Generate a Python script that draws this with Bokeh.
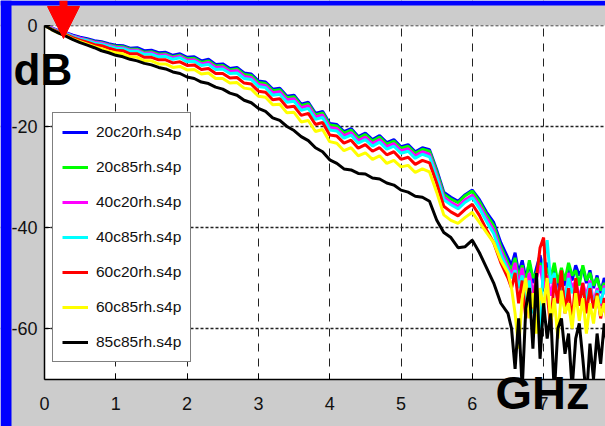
import numpy as np
from bokeh.plotting import figure
from bokeh.models import (Range1d, FixedTicker, Legend, LegendItem, Label,
                          Arrow, NormalHead, BoxAnnotation)
from bokeh.embed import file_html
from bokeh.resources import INLINE

# ---------------- data ----------------
freq_smooth = np.round(np.arange(0.0, 6.51, 0.1), 2)      # GHz, 0.0 .. 6.5
freq_noisy = np.round(np.arange(6.55, 7.91, 0.05), 2)     # GHz, 6.55 .. 7.9
freq = np.concatenate([freq_smooth, freq_noisy])

s20c20 = [0, -0.5, -1.0, -1.4, -1.9, -2.3, -2.6, -3.0, -3.2, -3.6,
          -3.9, -4.0, -4.5, -4.4, -5.0, -4.9, -5.4, -5.3, -5.9, -5.6,
          -6.3, -6.2, -7.0, -6.7, -7.7, -7.6, -8.5, -8.3, -9.4, -9.6,
          -11.0, -11.2, -12.6, -12.4, -14.0, -13.8, -15.6, -15.2, -17.4, -17.0,
          -19.4, -19.6, -21.0, -20.4, -22.0, -21.3, -22.6, -21.8, -23.2, -22.6,
          -24.0, -23.6, -25.0, -24.2, -24.6, -28.5, -33.0, -34.0, -34.8, -33.5,
          -32.6, -34.5, -37.0, -39.0, -43.0, -46.0,
          -47.5, -45.0, -49.0, -46.5, -50.0, -47.0, -51.0, -48.0, -45.5, -49.0,
          -47.0, -51.0, -48.5, -52.0, -49.0, -51.5, -48.0, -50.5, -47.5, -49.5,
          -48.0, -51.0, -48.5, -52.0, -49.5, -53.0, -50.0, -52.0]

s20c85 = [0, -0.6, -1.1, -1.6, -2.1, -2.5, -2.8, -3.2, -3.4, -3.8,
          -4.1, -4.2, -4.7, -4.7, -5.3, -5.2, -5.7, -5.6, -6.2, -5.9,
          -6.6, -6.5, -7.3, -7.0, -8.0, -7.9, -8.8, -8.6, -9.7, -9.9,
          -11.3, -11.5, -12.9, -12.7, -14.3, -14.1, -15.9, -15.5, -17.7, -17.3,
          -19.7, -19.9, -21.3, -20.7, -22.3, -21.6, -22.9, -22.1, -23.5, -22.9,
          -24.3, -23.9, -25.3, -24.5, -24.9, -28.9, -33.4, -34.4, -35.1, -33.7,
          -32.8, -34.9, -37.5, -39.6, -43.8, -47.0,
          -48.5, -46.0, -50.0, -47.5, -51.0, -46.5, -50.0, -49.0, -47.0, -50.5,
          -48.0, -50.0, -47.0, -51.0, -48.0, -50.5, -47.0, -49.5, -48.5, -51.5,
          -47.5, -50.5, -49.0, -51.5, -50.0, -52.5, -51.0, -53.0]

s40c20 = [0, -0.5, -1.1, -1.5, -2.1, -2.5, -2.9, -3.3, -3.5, -3.9,
          -4.3, -4.4, -4.9, -4.9, -5.5, -5.4, -5.9, -5.8, -6.4, -6.1,
          -6.9, -6.8, -7.6, -7.3, -8.3, -8.2, -9.1, -8.9, -10.1, -10.3,
          -11.7, -11.9, -13.3, -13.1, -14.7, -14.5, -16.3, -15.9, -18.1, -17.7,
          -20.2, -20.4, -21.8, -21.2, -22.8, -22.1, -23.4, -22.6, -24.0, -23.4,
          -24.8, -24.4, -25.8, -25.0, -25.5, -29.5, -34.0, -35.0, -35.8, -34.5,
          -33.6, -35.6, -38.2, -40.5, -44.5, -47.8,
          -49.5, -47.0, -51.5, -48.0, -52.5, -49.0, -53.0, -50.0, -47.5, -52.0,
          -49.5, -53.5, -50.0, -54.0, -51.0, -55.0, -49.0, -52.0, -50.5, -54.0,
          -51.0, -53.5, -50.5, -55.0, -52.0, -55.5, -51.5, -54.5]

s40c85 = [0, -0.6, -1.2, -1.6, -2.2, -2.7, -3.0, -3.5, -3.7, -4.1,
          -4.5, -4.6, -5.1, -5.1, -5.7, -5.7, -6.2, -6.1, -6.7, -6.4,
          -7.2, -7.1, -7.9, -7.7, -8.7, -8.6, -9.5, -9.4, -10.5, -10.7,
          -12.1, -12.3, -13.8, -13.6, -15.2, -15.0, -16.8, -16.4, -18.6, -18.2,
          -20.7, -20.9, -22.3, -21.7, -23.3, -22.6, -23.9, -23.1, -24.5, -23.9,
          -25.3, -24.9, -26.3, -25.5, -26.0, -30.0, -34.5, -35.5, -36.3, -35.0,
          -34.1, -36.2, -38.8, -41.2, -45.3, -48.5,
          -50.0, -48.5, -52.0, -49.5, -55.0, -50.5, -57.0, -52.0, -60.0, -47.0,
          -42.5, -51.0, -49.0, -55.0, -51.5, -54.0, -50.0, -53.0, -51.5, -55.0,
          -52.0, -54.5, -51.0, -56.0, -52.5, -55.0, -52.0, -54.0]

s60c20 = [0, -0.7, -1.3, -1.8, -2.4, -2.9, -3.3, -3.8, -4.0, -4.5,
          -4.9, -5.0, -5.6, -5.6, -6.3, -6.3, -6.8, -6.8, -7.4, -7.2,
          -7.9, -7.8, -8.7, -8.5, -9.5, -9.5, -10.4, -10.3, -11.4, -11.6,
          -13.0, -13.2, -14.7, -14.5, -16.2, -16.0, -17.8, -17.4, -19.6, -19.2,
          -21.7, -21.9, -23.3, -22.7, -24.3, -23.6, -24.9, -24.2, -25.6, -25.0,
          -26.5, -26.1, -27.5, -26.7, -27.2, -31.2, -35.8, -36.9, -37.7, -36.4,
          -35.4, -37.6, -40.5, -43.0, -47.0, -50.0,
          -52.0, -49.0, -55.0, -50.5, -58.0, -52.0, -56.0, -50.0, -44.0, -42.0,
          -53.0, -60.0, -50.0, -55.0, -48.5, -57.0, -52.0, -59.0, -50.0, -55.5,
          -51.0, -57.0, -52.0, -56.0, -53.0, -58.0, -54.0, -56.5]

s60c85 = [0, -0.8, -1.5, -2.0, -2.7, -3.2, -3.7, -4.2, -4.6, -5.1,
          -5.4, -5.6, -6.2, -6.3, -7.0, -7.0, -7.6, -7.6, -8.3, -8.1,
          -8.8, -8.7, -9.6, -9.4, -10.5, -10.5, -11.4, -11.3, -12.4, -12.6,
          -14.0, -14.2, -15.7, -15.6, -17.3, -17.2, -19.1, -18.8, -21.0, -20.6,
          -23.0, -23.3, -24.8, -24.2, -25.8, -25.2, -26.5, -25.8, -27.3, -26.7,
          -28.0, -27.7, -29.1, -28.4, -29.0, -33.0, -37.5, -38.6, -39.2, -38.0,
          -37.0, -39.0, -41.0, -43.0, -46.5, -49.0,
          -52.0, -57.0, -64.0, -54.0, -50.0, -58.0, -53.0, -61.0, -52.0, -56.0,
          -50.0, -59.0, -54.0, -62.0, -52.5, -57.0, -55.0, -60.0, -53.0, -58.5,
          -54.0, -61.0, -55.0, -59.0, -53.5, -57.5, -55.0, -60.0]

s85c85 = [0, -0.8, -1.5, -2.1, -2.8, -3.4, -3.9, -4.4, -5.0, -5.4,
          -5.9, -6.2, -6.7, -7.0, -7.5, -7.8, -8.3, -8.6, -9.2, -9.5,
          -10.2, -10.5, -11.2, -11.5, -12.2, -12.6, -13.4, -13.8, -14.8, -15.3,
          -16.4, -17.0, -18.3, -18.8, -20.0, -20.8, -22.0, -22.8, -24.2, -25.0,
          -26.6, -27.3, -28.4, -28.6, -29.3, -29.4, -30.2, -30.4, -31.2, -31.6,
          -32.6, -33.0, -33.8, -34.0, -34.8, -38.5, -41.0, -42.0, -44.0, -43.8,
          -42.5, -45.0, -48.0, -51.0, -55.0, -57.0,
          -60.0, -68.0, -58.0, -72.0, -56.0, -52.0, -64.0, -49.0, -66.0, -55.0,
          -62.0, -57.0, -73.0, -60.0, -58.0, -65.0, -61.0, -72.0, -62.0, -59.0,
          -66.0, -74.0, -63.0, -70.0, -61.0, -67.0, -59.0, -64.0]

series_names = ["20c20rh.s4p", "20c85rh.s4p", "40c20rh.s4p", "40c85rh.s4p",
                "60c20rh.s4p", "60c85rh.s4p", "85c85rh.s4p"]
series_values = [s20c20, s20c85, s40c20, s40c85, s60c20, s60c85, s85c85]
series_colors = ["#0000ff", "#00ff00", "#ff00ff", "#00ffff",
                 "#ff0000", "#ffff00", "#000000"]

x_ticks = [0, 1, 2, 3, 4, 5, 6, 7, 8]
y_ticks = [-60, -40, -20, 0]
y_tick_labels = {-60: "-60", -40: "-40", -20: "-20", 0: "0"}
x_min, x_max = 0.0, 7.868          # visible GHz span of the axes box
y_min, y_max = -70.1, 0.0          # dB span of the axes box
y_unit_text = "dB"
x_unit_text = "GHz"

FONT = "Liberation Sans"

# ---------------- figure ----------------
# The frame covers the whole canvas; the grey margin is painted around the
# axes box so that the big unit texts and the arrow are never clipped.
W, H = 605, 426
FL, FT, FB = 44, 25, 379            # axes box left / top / bottom, canvas px
px_x = (W - FL) / (x_max - x_min)   # px per GHz
px_y = (FB - FT) / (y_max - y_min)  # px per dB
p = figure(width=W, height=H, output_backend="svg", toolbar_location=None,
           x_range=Range1d(x_min - FL / px_x, x_max),
           y_range=Range1d(y_min - (H - FB) / px_y, y_max + FT / px_y),
           min_border=0)
p.background_fill_color = "white"
p.border_fill_color = "#cccccc"
p.outline_line_color = None

for ax in (p.xaxis[0], p.yaxis[0]):
    ax.axis_line_color = "black"
    ax.axis_line_width = 1.5
    ax.major_tick_in = 6
    ax.major_tick_out = 0
    ax.minor_tick_line_color = None
    ax.major_tick_line_color = "black"
    ax.major_label_text_font = FONT
    ax.major_label_text_font_size = "18px"
    ax.major_label_text_color = "#111111"

p.xaxis.ticker = FixedTicker(ticks=x_ticks)
p.xaxis.fixed_location = y_min
p.xaxis.bounds = (x_min, x_ticks[-1])
p.xaxis.major_label_standoff = 17
p.yaxis.ticker = FixedTicker(ticks=y_ticks)
p.yaxis.fixed_location = x_min
p.yaxis.bounds = (y_min, y_max)
p.yaxis.major_label_overrides = y_tick_labels
p.yaxis.major_label_standoff = 7

p.xgrid.ticker = FixedTicker(ticks=x_ticks[1:])
p.xgrid.grid_line_color = "#222222"
p.xgrid.grid_line_dash = "8 7"
p.xgrid.grid_line_width = 1
p.ygrid.ticker = FixedTicker(ticks=y_ticks)
p.ygrid.grid_line_color = "#222222"
p.ygrid.grid_line_dash = "3 2"
p.ygrid.grid_line_width = 1.5

items = []
for name, vals, col in zip(series_names, series_values, series_colors):
    r = p.line(freq, vals, line_color=col, line_width=3)
    items.append(LegendItem(label=name, renderers=[r]))

# grey figure margin around the axes box (above the curves, below the axes)
grey = "#cccccc"
for kw in (dict(right=x_min), dict(bottom=y_max), dict(top=y_min)):
    p.add_layout(BoxAnnotation(fill_color=grey, fill_alpha=1, line_color=None,
                               level="glyph", **kw))

legend = Legend(items=items, location=(52, H - 362), padding=9, spacing=15,
                label_height=20, glyph_height=20, glyph_width=26,
                label_standoff=8, margin=0,
                border_line_color="black", border_line_width=1,
                background_fill_color="white", background_fill_alpha=1,
                label_text_font=FONT, label_text_font_size="15.5px",
                label_text_color="#111111")
p.add_layout(legend)

# blue window border (left and top edge)
blue = "#0000ff"
p.add_layout(BoxAnnotation(left=0, right=11, left_units="screen", right_units="screen",
                           fill_color=blue, fill_alpha=1, line_color=None))
p.add_layout(BoxAnnotation(bottom=H - 5, bottom_units="screen",
                           fill_color=blue, fill_alpha=1, line_color=None))

p.add_layout(Label(x=13, y=H - 69, x_units="screen", y_units="screen",
                   text=y_unit_text, text_font=FONT, text_font_style="bold",
                   text_font_size="44px", text_color="black",
                   text_baseline="alphabetic"))
p.add_layout(Label(x=495, y=H - 392, x_units="screen", y_units="screen",
                   text=x_unit_text, text_font=FONT, text_font_style="bold",
                   text_font_size="47px", text_color="black",
                   text_baseline="alphabetic"))

# red marker arrow
red = "#ff0000"
p.add_layout(Arrow(end=NormalHead(size=32, fill_color=red, line_color=red),
                   x_start=63, y_start=H, x_end=63, y_end=H - 38,
                   start_units="screen", end_units="screen",
                   line_color=red, line_width=8))

open("out.html", "w").write(file_html(p, INLINE))
